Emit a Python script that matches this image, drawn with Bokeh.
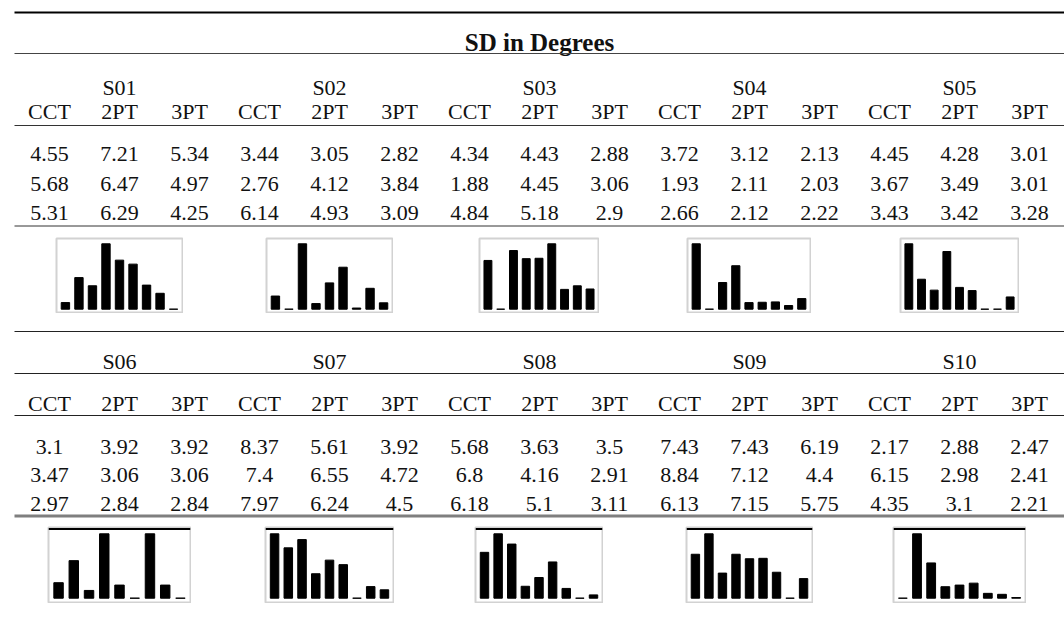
from bokeh.plotting import figure
from bokeh.layouts import column, row
from bokeh.models import Range1d, Spacer, Span
from bokeh.embed import file_html
from bokeh.resources import INLINE
from bokeh.core.properties import value

# ---------------- data ----------------
title = "SD in Degrees"
methods = ["CCT", "2PT", "3PT"]
subjects_top = ["S01", "S02", "S03", "S04", "S05"]
subjects_bottom = ["S06", "S07", "S08", "S09", "S10"]

# three trials per subject, one list per subject (S01..S10)
cct = [[4.55, 5.68, 5.31], [3.44, 2.76, 6.14], [4.34, 1.88, 4.84], [3.72, 1.93, 2.66], [4.45, 3.67, 3.43],
       [3.1, 3.47, 2.97], [8.37, 7.4, 7.97], [5.68, 6.8, 6.18], [7.43, 8.84, 6.13], [2.17, 6.15, 4.35]]
pt2 = [[7.21, 6.47, 6.29], [3.05, 4.12, 4.93], [4.43, 4.45, 5.18], [3.12, 2.11, 2.12], [4.28, 3.49, 3.42],
       [3.92, 3.06, 2.84], [5.61, 6.55, 6.24], [3.63, 4.16, 5.1], [7.43, 7.12, 7.15], [2.88, 2.98, 3.1]]
pt3 = [[5.34, 4.97, 4.25], [2.82, 3.84, 3.09], [2.88, 3.06, 2.9], [2.13, 2.03, 2.22], [3.01, 3.01, 3.28],
       [3.92, 3.06, 2.84], [3.92, 4.72, 4.5], [3.5, 2.91, 3.11], [6.19, 4.4, 5.75], [2.47, 2.41, 2.21]]

# ---------------- layout constants ----------------
W = 1064                 # figure width
COL_W = 70               # px per column
X0 = 49                  # first column centre in px
FONT = value("Liberation Serif")
FS = "22px"
TXT = "#111111"

xr_start = -X0 / COL_W
xr_end = (W - X0) / COL_W
LINE_L = -0.5


def table_fig(h):
    p = figure(width=W, height=h, x_range=Range1d(xr_start, xr_end), y_range=Range1d(h, 0),
               output_backend="svg", toolbar_location=None, title=None,
               x_axis_type=None, y_axis_type=None, min_border=0, outline_line_color=None)
    p.grid.visible = False
    return p


def hline(p, y, w, c):
    p.segment(x0=[LINE_L], x1=[xr_end], y0=[y], y1=[y], line_width=w, line_color=c)


def texts(p, xs, y, labels, bold=False, size=FS):
    p.text(x=xs, y=[y] * len(xs), text=labels, text_font=FONT, text_font_size=size,
           text_align="center", text_baseline="alphabetic", text_color=TXT,
           text_font_style="bold" if bold else "normal")


def data_block(p, subj_idx, row_ys):
    for r, y in enumerate(row_ys):
        xs, labels = [], []
        for g, s in enumerate(subj_idx):
            for m, arr in enumerate((cct, pt2, pt3)):
                xs.append(3 * g + m)
                labels.append(str(arr[s][r]))
        texts(p, xs, y, labels)


col_x = list(range(15))
grp_x = [1 + 3 * g for g in range(5)]

# ---------------- top table part (page y 0..237) ----------------
top = table_fig(237)
hline(top, 12, 2, "#000000")
texts(top, [7], 41.5, [title], bold=True, size="25px")
hline(top, 53, 1, "#444444")
texts(top, grp_x, 86.5, subjects_top)
texts(top, col_x, 110.5, methods * 5)
hline(top, 125, 1, "#333333")
data_block(top, range(0, 5), [153.5, 183, 212.5])
hline(top, 225.5, 1, "#333333")

# ---------------- middle table part (page y 313..526) ----------------
mid = table_fig(213)
hline(mid, 18, 1, "#222222")
texts(mid, grp_x, 47.5, subjects_bottom)
hline(mid, 60, 1, "#222222")
texts(mid, col_x, 89.5, methods * 5)
hline(mid, 102, 1, "#222222")
data_block(mid, range(5, 10), [133.5, 161.5, 190])
hline(mid, 202.5, 3, "#7f7f7f")


# ---------------- sparklines ----------------
def spark(s, w, h, pad_top, pad_bot, top_line):
    vals = cct[s] + pt2[s] + pt3[s]
    lo, hi = min(vals), max(vals)
    inner = h - 2
    dpp = (hi - lo) / (inner - pad_top - pad_bot)
    p = figure(width=w, height=h, x_range=Range1d(-0.66, 8.66),
               y_range=Range1d(lo - pad_bot * dpp, hi + pad_top * dpp),
               output_backend="svg", toolbar_location=None, title=None,
               x_axis_type=None, y_axis_type=None, min_border=1)
    p.grid.visible = False
    p.outline_line_color = "#d2d2d2"
    p.outline_line_width = 2
    p.vbar(x=list(range(len(vals))), bottom=lo, top=vals, width=0.62,
           fill_color="#000000", line_color="#000000", line_width=1)
    if top_line:
        p.add_layout(Span(location=hi + (pad_top - 1.5) * dpp, dimension="width",
                          line_color="#000000", line_width=2))
    return p


def spark_row(subj_idx, widths, h, pad_top, pad_bot, top_line):
    kids = []
    cursor = 0
    for g, s in enumerate(subj_idx):
        centre = X0 + COL_W * (3 * g + 1)
        left = int(round(centre - widths[g] / 2))
        kids.append(Spacer(width=left - cursor, height=h))
        kids.append(spark(s, widths[g], h, pad_top, pad_bot, top_line))
        cursor = left + widths[g]
    return row(kids)


top_widths = [128, 128, 121, 125, 120]
bot_widths = [144, 130, 129, 128, 134]

sp_top = spark_row(range(0, 5), top_widths, 76, 5.3, 3.3, False)
sp_bot = spark_row(range(5, 10), bot_widths, 77, 6.3, 4.3, True)

layout = column(top, sp_top, mid, sp_bot)

open("out.html", "w").write(file_html(layout, INLINE))
